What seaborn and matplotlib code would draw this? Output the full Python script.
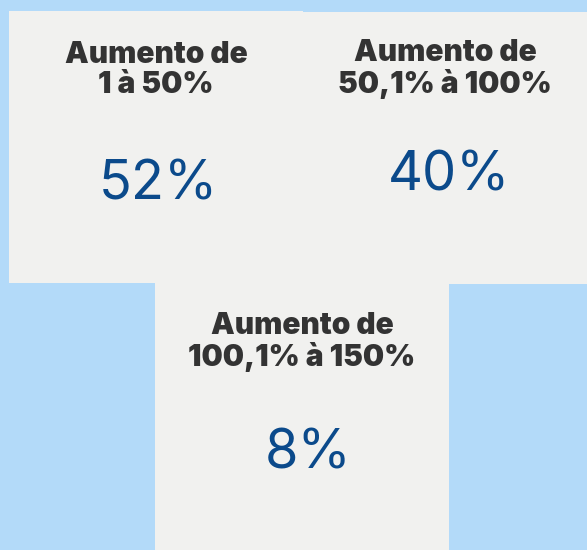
import matplotlib.pyplot as plt
import seaborn as sns
from matplotlib.patches import Rectangle

# data
faixas = ["Aumento de\n1 à 50%", "Aumento de\n50,1% à 100%", "Aumento de\n100,1% à 150%"]
percentuais = [52, 40, 8]

# layout of the cards, in pixels (x0, y0, x1, y1)
cards = [(9, 11, 303, 283), (303, 12, 590, 284), (155, 283, 449, 552)]
title_y = [70, 69, 342]
value_y = [185, 176, 454]
value_dx = [2, 4, 6]

sns.set_theme(style="white")
plt.rcParams["font.family"] = ["Inter", "DejaVu Sans"]

BG = "#B3DAF9"
CARD = "#F1F1EF"
TITLE = "#333333"
VALUE = "#0B4A8B"

fig = plt.figure(figsize=(5.87, 5.5), dpi=100)
fig.patch.set_facecolor(BG)
ax = fig.add_axes([0, 0, 1, 1])
ax.set_xlim(0, 587)
ax.set_ylim(550, 0)
ax.axis("off")

for (x0, y0, x1, y1), faixa, pct, ty, vy, dx in zip(cards, faixas, percentuais, title_y, value_y, value_dx):
    ax.add_patch(Rectangle((x0, y0), x1 - x0, y1 - y0, facecolor=CARD, edgecolor="none"))
    cx = (x0 + min(x1, 587)) / 2
    ax.text(cx, ty, faixa, ha="center", va="center", fontsize=21.5, fontweight="black",
            color=TITLE, linespacing=1.12)
    ax.text(cx + dx, vy, f"{pct}%", ha="center", va="center", fontsize=39,
            fontweight="normal", color=VALUE)

fig.savefig("out.png", dpi=100, facecolor=BG)
